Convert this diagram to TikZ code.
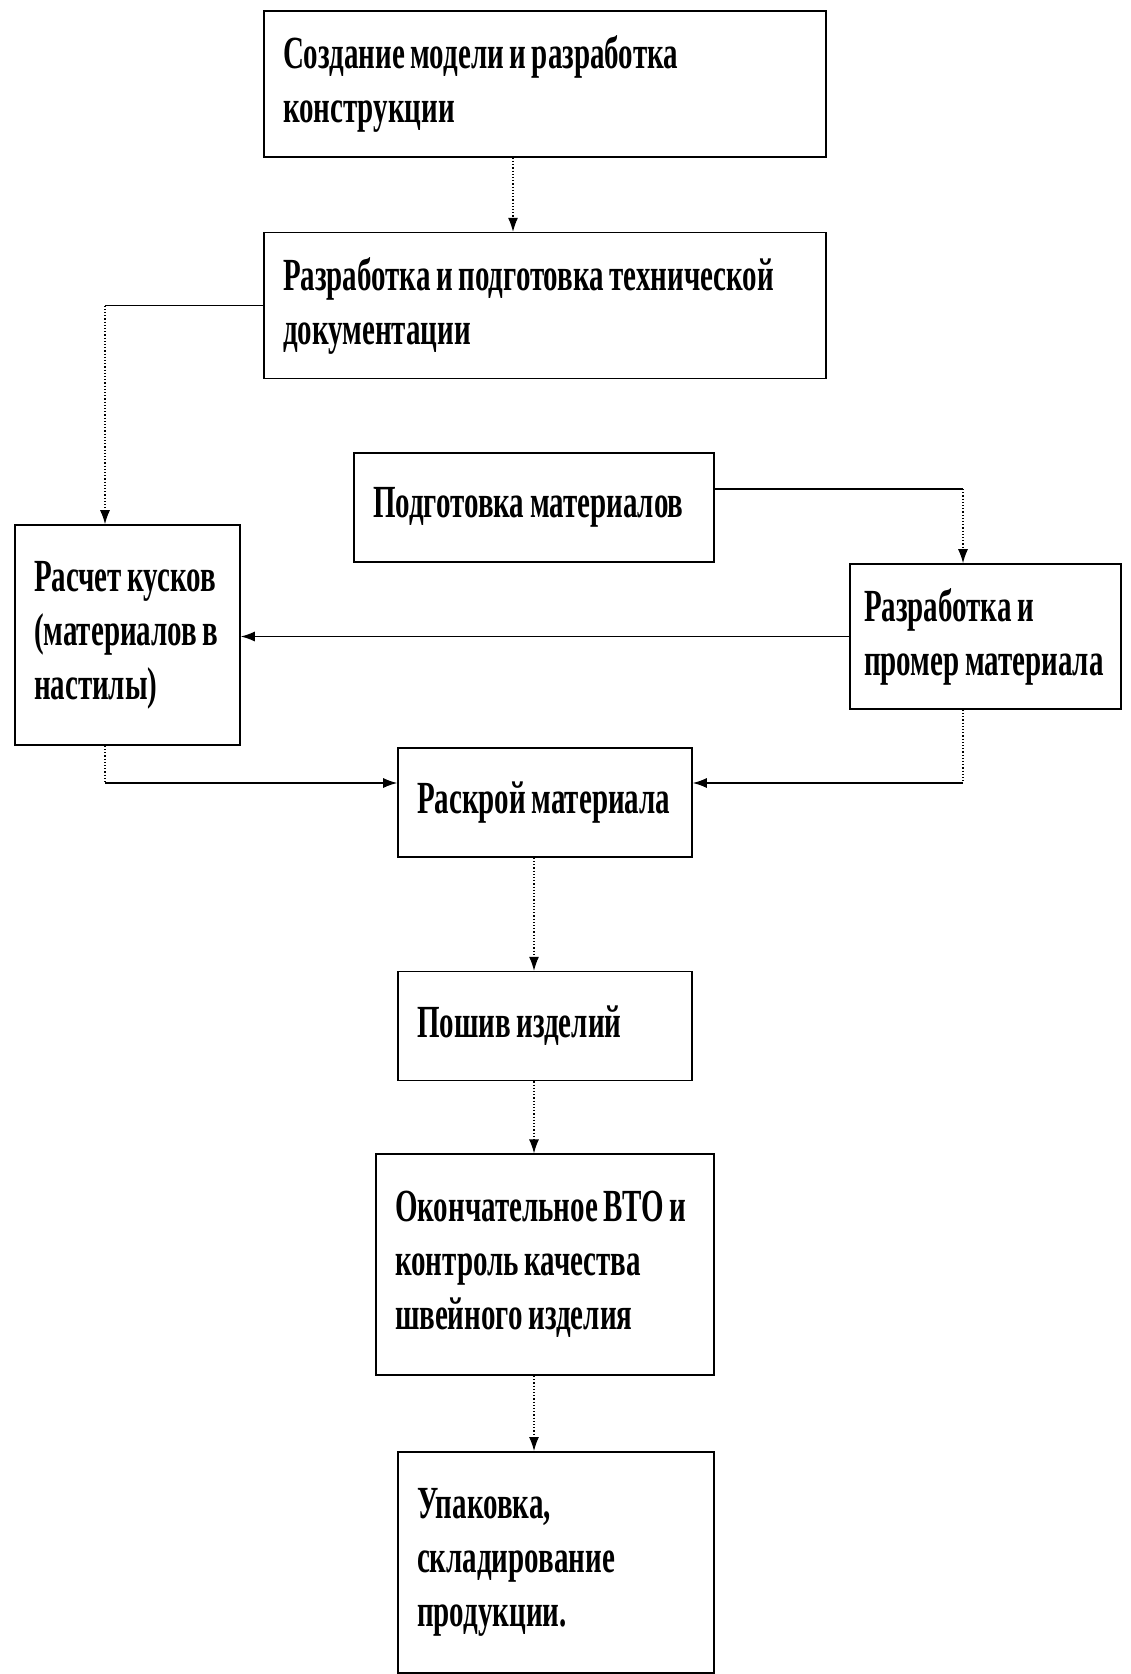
\documentclass[tikz,border=0pt]{standalone}
\usepackage{fontspec}
\newfontfamily\stepfont{Liberation Serif}[FakeStretch=0.63]
\newcommand\boxfont{\stepfont\bfseries\fontsize{23}{27}\selectfont}
\newcommand\boxtext{\parindent=0pt\raggedright
  \spaceskip=2.8pt plus 1pt minus 0.5pt\xspaceskip=3.5pt\relax}
\usetikzlibrary{positioning}
\usetikzlibrary{arrows.meta}

\begin{document}
\begin{tikzpicture}[
x=0.5pt, y=-0.5pt,
stepbox/.style ={rectangle, draw, line width=0.8pt, fill=white,
  font=\boxfont, execute at begin node=\boxtext,
  inner xsep=9.5pt, inner ysep=0pt},
line/.style ={draw, line width=0.6pt, -{Latex[length=7pt,width=5pt]}},
dotline/.style ={draw, line width=0.6pt, densely dotted, -{Latex[length=7pt,width=5pt]}},
plain/.style ={draw, line width=0.6pt},
dotplain/.style ={draw, line width=0.6pt, densely dotted}
]
\useasboundingbox (0,0) rectangle (1130,1674);

\node[stepbox, text width=262pt, minimum height=73pt] (model) at (545,84) {Создание модели и разработка\\конструкции};
\node[stepbox, text width=262pt, minimum height=73pt] (docs) [below=37pt of model] {Разработка и подготовка технической\\документации};
\node[stepbox, text width=93.5pt, minimum height=110pt] (raschet) at (127.5,635) {Расчет кусков\\(материалов в\\настилы)};
\node[stepbox, text width=161pt, minimum height=54.5pt] (podgot) at (534,507.5) {Подготовка материалов};
\node[stepbox, text width=121.5pt, minimum height=72.5pt, inner xsep=7pt] (promer) at (985.5,636.5) {Разработка и\\промер материала};
\node[stepbox, text width=128pt, minimum height=54.5pt] (raskroy) at (545,802.5) {Раскрой материала};
\node[stepbox, text width=128pt, minimum height=54.5pt] (poshiv) [below=56.5pt of raskroy] {Пошив изделий};
\node[stepbox, text width=150pt, minimum height=110.5pt] (vto) [below=36pt of poshiv] {Окончательное ВТО и\\контроль качества\\швейного изделия};
\node[stepbox, text width=139pt, minimum height=110.5pt] (upak) [below=37.5pt of vto, xshift=5.5pt] {Упаковка,\\складирование\\продукции.};

\coordinate (rtop) at ([xshift=-11.25pt]raschet.north);
\coordinate (rbot) at ([xshift=-11.25pt]raschet.south);
\coordinate (ptop) at ([xshift=-11.25pt]promer.north);
\coordinate (pbot) at ([xshift=-11.25pt]promer.south);
\coordinate (gout) at ([yshift=9.25pt]podgot.east);
\coordinate (kin) at ([yshift=9.75pt]raskroy.west);
\coordinate (kout) at ([yshift=9.75pt]raskroy.east);

\path[dotline] ([xshift=-16pt]model.south) -- ([xshift=-16pt]docs.north);
\path[plain] (docs.west) -- (docs.west -| rtop);
\path[dotline] (docs.west -| rtop) -- (rtop);
\path[plain] (gout) -- (gout -| ptop);
\path[dotline] (gout -| ptop) -- (ptop);
\path[line] (promer.west) -- (promer.west -| raschet.east);
\path[dotplain] (rbot) -- (rbot |- kin);
\path[line] (rbot |- kin) -- (kin);
\path[dotplain] (pbot) -- (pbot |- kout);
\path[line] (pbot |- kout) -- (kout);
\path[dotline] ([xshift=-5.5pt]raskroy.south) -- ([xshift=-5.5pt]poshiv.north);
\path[dotline] ([xshift=-5.5pt]poshiv.south) -- ([xshift=-5.5pt]vto.north);
\path[dotline] ([xshift=-5.5pt]vto.south) -- ([xshift=-5.5pt]vto.south |- upak.north);
\end{tikzpicture}
\end{document}
